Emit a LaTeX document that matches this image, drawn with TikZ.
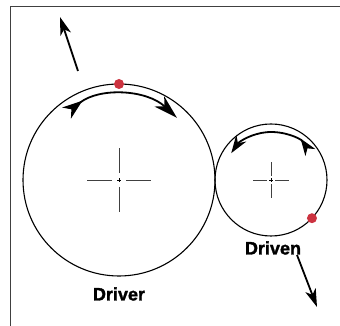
\documentclass[tikz,border=0pt]{standalone}
\usepackage{fontspec}
\setmainfont[BoldFeatures={FakeBold=1.6}]{Liberation Sans}
\usetikzlibrary{arrows.meta}
\definecolor{markred}{HTML}{CC3340}

\begin{document}
\begin{tikzpicture}[x=1pt, y=1pt, >={Stealth[length=18pt, width=11pt, inset=5pt]},
			font=\bfseries\fontsize{18}{18}\selectfont,
			gear/.style={line width=1.1pt},
			axisline/.style={line width=0.8pt, black!75},
			turn/.style={line width=1.8pt,
				{Stealth[reversed, length=20pt, width=14pt, inset=6pt]}-{Stealth[length=24pt, width=14pt, inset=7pt]}},
			smallturn/.style={line width=1.8pt,
				{Stealth[reversed, length=17pt, width=12pt, inset=5pt]}-{Stealth[length=18pt, width=12pt, inset=6pt]}},
			push/.style={line width=1.8pt, ->}]
			\useasboundingbox (0,0) rectangle (340,326);
			% frame (only its top and left edge are in view)
			\draw[line width=1.5pt, black!75] (10.5,0) |- (340,319.5);
			% centres of the two gears
			\coordinate (driver) at (119,146);
			\coordinate (driven) at (271,146);
			% the gears, touching at x = 215
			\draw[gear] (driver) circle (96);
			\draw[gear] (driven) circle (56);
			% centre marks
			\foreach \a in {0,90,180,270} {
				\draw[axisline, shift={(driver)}] (\a:7) -- (\a:32);
				\draw[axisline, shift={(driven)}] (\a:4) -- (\a:18);
			}
			\draw[line width=0.6pt, shift={(driver)}] (-2,0) -- (2,0) (0,-2) -- (0,2);
			\draw[line width=0.6pt, shift={(driven)}] (-2,0) -- (2,0) (0,-2) -- (0,2);
			% turning sense: driver clockwise, driven the other way
			\draw[turn] ([shift={(128:85)}]driver) arc[start angle=128, end angle=47, radius=85];
			\draw[smallturn] ([shift={(35:48)}]driven) arc[start angle=35, end angle=146, radius=48];
			% marked teeth
			\coordinate (markA) at ([shift={(90:96)}]driver);
			\coordinate (markB) at ([shift={(-43:56)}]driven);
			\fill[markred] (markA) circle (5);
			\fill[markred] (markB) circle (5);
			% push directions
			\coordinate (pushAtail) at (78,255);
			\coordinate (pushAtip) at (60,309);
			\coordinate (pushBtail) at (297,71);
			\coordinate (pushBtip) at (317,19);
			\draw[push] (pushAtail) -- (pushAtip);
			\draw[push] (pushBtail) -- (pushBtip);
			% labels
			\node (driverlabel) at (119,32) {Driver};
			\node (drivenlabel) at (273,78) {Driven};
		\end{tikzpicture}
\end{document}
